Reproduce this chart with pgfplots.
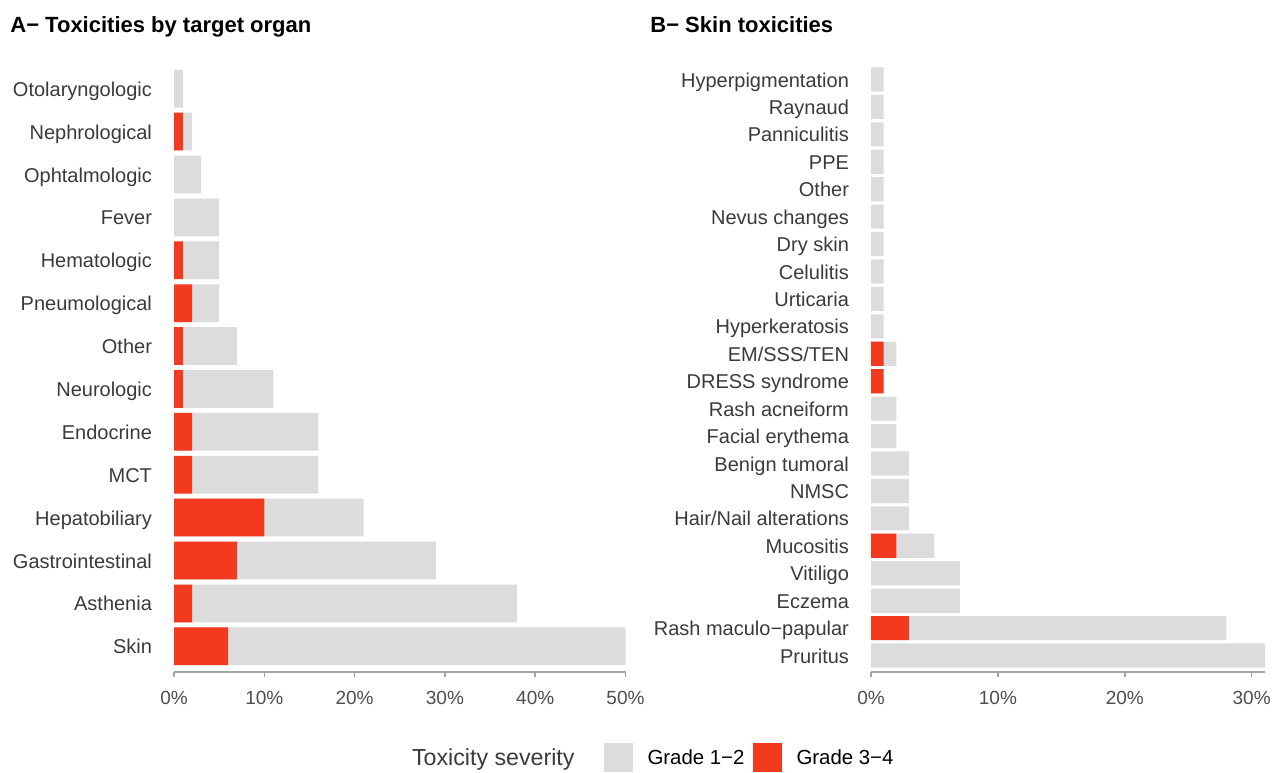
\documentclass[border=0pt]{standalone}
\usepackage{fontspec}
\setmainfont{Liberation Sans}
\usepackage{pgfplots}
\pgfplotsset{compat=1.18}
\definecolor{lowg}{HTML}{DCDCDC}
\definecolor{highg}{HTML}{F33A1F}
\definecolor{axisc}{HTML}{A3A3A3}
\definecolor{tickc}{HTML}{4D4D4D}
\definecolor{labc}{HTML}{3A3A3A}

\pgfplotsset{
  tox/.style={
    scale only axis, xbar, bar shift=0pt, bar width=0.88,
    xmin=0, ymin=0.4,
    axis x line*=bottom, axis y line*=left,
    x axis line style={-, axisc, line width=0.8pt},
    y axis line style={draw=none},
    xtick style={axisc, line width=0.8pt}, ytick style={draw=none},
    tick align=outside, major tick length=2.5pt,
    xticklabel style={font=\fontsize{9.5}{11}\selectfont, color=tickc, yshift=-3.5pt},
    yticklabel style={font=\fontsize{10}{12}\selectfont, color=labc, xshift=-5pt, yshift=-1.2pt,
      text height=0.72em, text depth=0.2em},
    clip=false,
  },
  lowbar/.style={fill=lowg, draw=none,
    legend image code/.code={\fill[lowg] (0pt,-7.25pt) rectangle (14.5pt,7.25pt);}},
  highbar/.style={fill=highg, draw=none,
    legend image code/.code={\fill[highg] (0pt,-7.25pt) rectangle (14.5pt,7.25pt);}},
}

\begin{document}
\begin{tikzpicture}
\useasboundingbox (0,0) rectangle (636pt,386pt);

\node[anchor=base west, inner sep=0pt, font=\bfseries\fontsize{11}{13}\selectfont] at (5pt,369.5pt) {A− Toxicities by target organ};
\node[anchor=base west, inner sep=0pt, font=\bfseries\fontsize{11}{13}\selectfont] at (325pt,369.5pt) {B− Skin toxicities};

% A: target organ
\begin{axis}[tox,
  at={(87pt,50pt)}, anchor=south west,
  width=225.75pt, height=304.5pt,
  xmax=50, ymax=14.6,
  xtick={0,10,20,30,40,50},
  xticklabels={0\%,10\%,20\%,30\%,40\%,50\%},
  ytick={1,...,14},
  yticklabels={Skin,Asthenia,Gastrointestinal,Hepatobiliary,MCT,Endocrine,Neurologic,Other,Pneumological,Hematologic,Fever,Ophtalmologic,Nephrological,Otolaryngologic},
  legend columns=-1,
  legend cell align=left,
  legend style={draw=none, fill=none, inner sep=0pt, column sep=0pt,
    at={(0.5265,-0.1396)}, anchor=west,
    nodes={inner sep=0pt, text depth=0pt}},
]
\addlegendimage{empty legend}
\addlegendentry[font=\fontsize{11.6}{13}\selectfont, color=labc]{Toxicity severity\hspace*{14.5pt}}
\addplot[lowbar] coordinates {
 (50,1) (38,2) (29,3) (21,4) (16,5) (16,6) (11,7) (7,8) (5,9) (5,10) (5,11) (3,12) (2,13) (1,14)};
\addlegendentry[font=\fontsize{10.2}{12}\selectfont]{\hspace*{7.5pt}Grade 1−2\hspace*{4pt}}
\addplot[highbar] coordinates {
 (6,1) (2,2) (7,3) (10,4) (2,5) (2,6) (1,7) (1,8) (2,9) (1,10) (1,13)};
\addlegendentry[font=\fontsize{10.2}{12}\selectfont]{\hspace*{7.5pt}Grade 3−4}
\end{axis}

% B: skin
\begin{axis}[tox,
  at={(435.5pt,50pt)}, anchor=south west,
  width=197pt, height=304.5pt,
  xmax=31.05, ymax=22.6,
  xtick={0,10,20,30},
  xticklabels={0\%,10\%,20\%,30\%},
  ytick={1,...,22},
  yticklabels={Pruritus,Rash maculo−papular,Eczema,Vitiligo,Mucositis,Hair/Nail alterations,NMSC,Benign tumoral,Facial erythema,Rash acneiform,DRESS syndrome,EM/SSS/TEN,Hyperkeratosis,Urticaria,Celulitis,Dry skin,Nevus changes,Other,PPE,Panniculitis,Raynaud,Hyperpigmentation},
]
\addplot[lowbar] coordinates {
 (31.05,1) (28,2) (7,3) (7,4) (5,5) (3,6) (3,7) (3,8) (2,9) (2,10) (1,11) (2,12)
 (1,13) (1,14) (1,15) (1,16) (1,17) (1,18) (1,19) (1,20) (1,21) (1,22)};
\addplot[highbar] coordinates {
 (3,2) (2,5) (1,11) (1,12)};
\end{axis}
\end{tikzpicture}
\end{document}
